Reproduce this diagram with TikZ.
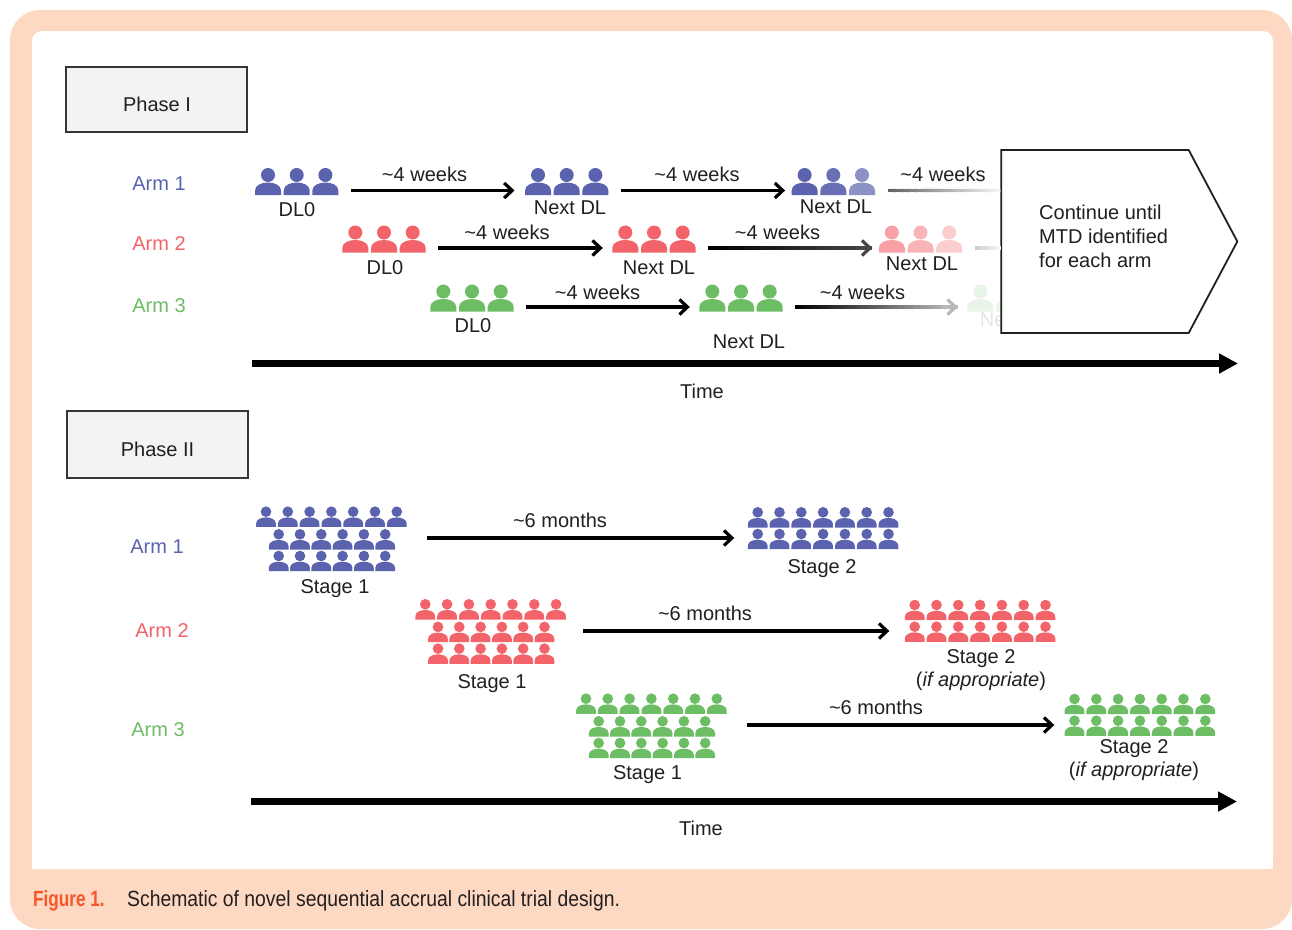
\documentclass[tikz,border=0pt]{standalone}
\usepackage{fontspec}
\setmainfont{Liberation Sans}
\newfontfamily\capfont[FakeStretch=0.88]{Liberation Sans}
\newfontfamily\capboldfont[FakeStretch=0.78]{Liberation Sans Bold}
\usetikzlibrary{arrows.meta,calc,positioning,shapes.symbols}

\definecolor{panel}{HTML}{FDD8C2}
\definecolor{armblue}{HTML}{5B62AE}
\definecolor{armred}{HTML}{F2636A}
\definecolor{armgreen}{HTML}{6CBD63}
\definecolor{inkgray}{HTML}{231F20}
\definecolor{figorange}{HTML}{F4572A}
\definecolor{boxgray}{HTML}{F1F3F4}

\tikzset{
  person/.pic={
    \path[pic actions] (0,0) circle (7);
    \path[pic actions] (-13,20) -- (-13,15.5) .. controls (-13,10) and (-6,7.5) .. (0,7.5)
       .. controls (6,7.5) and (13,10) .. (13,15.5) -- (13,20) -- cycle;
  },
  lab/.style={font=\fontsize{20}{24}\selectfont,text=inkgray,inner sep=0pt},
  armlab/.style={font=\fontsize{20}{24}\selectfont,inner sep=0pt},
  trio/.style={minimum width=108pt,minimum height=20pt,inner sep=0pt},
  crowdone/.style={minimum width=191pt,minimum height=20pt,inner sep=0pt},
  crowdtwo/.style={minimum width=177pt,minimum height=20pt,inner sep=0pt},
  phasebox/.style={draw=inkgray!90,line width=2pt,fill=boxgray,inner sep=0pt},
  conn/.style={line width=3.2pt,black},
  tipped/.style={-{Straight Barb[length=8pt,width=15pt]}},
  timeline/.style={line width=6.4pt,black,-{Triangle[length=19pt,width=19pt]}}
}

% one row of small people: colour, first x, y, last index, spacing
\newcommand{\personrow}[5]{%
  \foreach \k in {0,...,#4}
    \pic[fill=#1,scale=.76] at ({#2+#5*\k},#3) {person};}
\newcommand{\crowdfull}[3]{%
  \personrow{#1}{#2}{#3}{6}{21.8}
  \personrow{#1}{#2+12.7}{#3+22.6}{5}{21.3}
  \personrow{#1}{#2+12.7}{#3+44.3}{5}{21.3}}
\newcommand{\crowdhalf}[3]{%
  \personrow{#1}{#2}{#3}{6}{21.8}
  \personrow{#1}{#2}{#3+21.7}{6}{21.8}}
% connector that fades: from, to, start and end strength of black
\newcommand{\fadeline}[4]{%
  \foreach \i in {0,...,29}{
    \pgfmathsetmacro\fc{#3+(#4-#3)*\i/29}
    \pgfmathsetmacro\fe{min(1,(\i+1.25)/30)}
    \draw[conn,black!\fc] ($(#1)!\i/30!(#2)$) -- ($(#1)!\fe!(#2)$);
  }}

\begin{document}
\begin{tikzpicture}[x=1pt,y=-1pt]
  \useasboundingbox (0,0) rectangle (1292,929);
  \fill[panel,rounded corners=30pt] (10,10) rectangle (1292,929);
  \fill[white,rounded corners=10pt] (32,869) -- (32,31) -- (1273,31) -- (1273,869) [sharp corners] -- cycle;
  \fill[white] (32,800) rectangle (1273,869);

  % phase I
  \node[phasebox,minimum width=181pt,minimum height=65pt] (phaseone) at (156,99) {};
  \node[lab] (phaseonelab) at (157,104) {Phase I};
  \node[armlab,armblue] (arma) at (159,184) {Arm 1};
  \node[armlab,armred] (armb) at (159,244) {Arm 2};
  \node[armlab,armgreen] (armc) at (159,306) {Arm 3};

  \foreach \nm/\gx/\gy/\ca/\cb/\cc in {
      pa1/296.7/190.5/armblue/armblue/armblue,
      pa2/566.7/190.5/armblue/armblue/armblue,
      pa3/833.3/190.5/armblue/armblue!92/armblue!70,
      pb1/384/248/armred/armred/armred,
      pb2/654/248/armred/armred/armred,
      pb3/920.5/248/armred!60/armred!48/armred!32,
      pc1/472/307/armgreen/armgreen/armgreen,
      pc2/741/307/armgreen/armgreen/armgreen,
      pc3/1009/307/armgreen!16/armgreen!12/armgreen!8}{
    \node[trio] (\nm) at (\gx,\gy) {};
    \pic[fill=\ca] at (\gx-28.7,\gy-15.5) {person};
    \pic[fill=\cb] at (\gx,\gy-15.5) {person};
    \pic[fill=\cc] at (\gx+28.7,\gy-15.5) {person};
  }

  \node[lab] (dla) at (297,210) {DL0};
  \node[lab] (nxa) at (570,208) {Next DL};
  \node[lab] (nxaa) at (836,207) {Next DL};
  \node[lab] (dlb) at (385,268) {DL0};
  \node[lab] (nxb) at (659,268) {Next DL};
  \node[lab] (nxbb) at (922,264) {Next DL};
  \node[lab] (dlc) at (473,326) {DL0};
  \node[lab] (nxc) at (749,342) {Next DL};
  \node[lab,text=black!10] (nxcc) at (1016,320) {Next DL};

  \node[draw=inkgray,fill=white,line width=1.8pt,shape=signal,signal to=east,signal pointer angle=124,
        minimum width=236pt,minimum height=183pt,inner sep=0pt] (contbox) at (1095,241.5) {};
  \node[lab,align=left,anchor=west] (conttext) at (1039,236) {Continue until\\MTD identified\\for each arm};

  \draw[conn,tipped,shorten >=-2pt] (pa1) -- (pa2);
  \draw[conn,tipped,shorten >=-6pt] (pa2) -- (pa3);
  \draw[conn,tipped,shorten >=-3pt] (pb1) -- (pb2);
  \draw[conn,tipped,shorten >=-3pt] (pc1) -- (pc2);
  \coordinate (pb3in) at ($(pb3.west)+(6,0)$);
  \coordinate (pc3in) at ($(pc3.west)+(3,0)$);
  \fadeline{pb2.east}{pb3in}{100}{72}
  \draw[conn,black!72,tipped] ($(pb2.east)!.9!(pb3in)$) -- (pb3in);
  \fadeline{pc2.east}{pc3in}{100}{25}
  \draw[conn,black!28,tipped] ($(pc2.east)!.9!(pc3in)$) -- (pc3in);
  \coordinate (boxa) at (contbox.west |- pa3);
  \coordinate (boxb) at (contbox.west |- pb3);
  \fadeline{pa3.east}{boxa}{62}{4}
  \fadeline{pb3.east}{boxb}{20}{3}

  \node[lab] (dla4) at (424.5,174) {\textasciitilde4 weeks};
  \node[lab] (dlb4) at (697,174) {\textasciitilde4 weeks};
  \node[lab] (dlc4) at (943,174) {\textasciitilde4 weeks};
  \node[lab] (dld4) at (507,232) {\textasciitilde4 weeks};
  \node[lab] (dle4) at (777.5,232) {\textasciitilde4 weeks};
  \node[lab] (dlf4) at (597.5,292) {\textasciitilde4 weeks};
  \node[lab] (dlg4) at (862.5,292) {\textasciitilde4 weeks};

  \coordinate (timeastart) at (252,363.5);
  \coordinate (timeaend) at (1238,363.5);
  \draw[timeline] (timeastart) -- (timeaend);
  \node[lab] (timea) at (702,391) {Time};

  % phase II
  \node[phasebox,minimum width=181pt,minimum height=67pt] (phasetwo) at (157.5,444.5) {};
  \node[lab] (phasetwolab) at (157.5,449) {Phase II};
  \node[armlab,armblue] (arma2) at (157,547) {Arm 1};
  \node[armlab,armred] (armb2) at (162,631) {Arm 2};
  \node[armlab,armgreen] (armc2) at (158,730) {Arm 3};

  \crowdfull{armblue}{266}{511.7}
  \crowdhalf{armblue}{757.7}{512.3}
  \crowdfull{armred}{425.3}{604.3}
  \crowdhalf{armred}{914.7}{605}
  \crowdfull{armgreen}{586}{698.7}
  \crowdhalf{armgreen}{1074.5}{699}

  \node[crowdone] (sa1) at (331.5,538) {};
  \node[crowdtwo] (sa2) at (823,538) {};
  \node[crowdone] (sb1) at (491,631) {};
  \node[crowdtwo] (sb2) at (980,631) {};
  \node[crowdone] (sc1) at (651.5,725) {};
  \node[crowdtwo] (sc2) at (1140,725) {};
  \draw[conn,tipped] (sa1) -- (sa2);
  \draw[conn,tipped,shorten <=-4pt,shorten >=2pt] (sb1) -- (sb2);
  \draw[conn,tipped,shorten >=-3pt] (sc1) -- (sc2);

  \node[lab] (moa) at (560,520) {\textasciitilde6 months};
  \node[lab] (mob) at (705,613) {\textasciitilde6 months};
  \node[lab] (moc) at (876,707) {\textasciitilde6 months};
  \node[lab] (sta) at (335,588.5) {Stage 1};
  \node[lab] (stb) at (822,569) {Stage 2};
  \node[lab] (stc) at (492,684) {Stage 1};
  \node[lab] (std) at (981,658.5) {Stage 2};
  \node[lab] (ifa) at (981,681.5) {(\textit{if appropriate})};
  \node[lab] (ste) at (647.5,774.5) {Stage 1};
  \node[lab] (stf) at (1134,748.5) {Stage 2};
  \node[lab] (ifb) at (1134,771.5) {(\textit{if appropriate})};

  \coordinate (timebstart) at (251,801.5);
  \coordinate (timebend) at (1237,801.5);
  \draw[timeline] (timebstart) -- (timebend);
  \node[lab] (timeb) at (701,828) {Time};

  % caption
  \node[anchor=base west,inner sep=0pt,text=figorange,font=\capboldfont\fontsize{22}{24}\selectfont] (figlab) at (33,906) {Figure 1.};
  \node[anchor=base west,inner sep=0pt,text=inkgray,font=\capfont\fontsize{22}{24}\selectfont] (figcap) at (127,906) {Schematic of novel sequential accrual clinical trial design.};
\end{tikzpicture}
\end{document}
